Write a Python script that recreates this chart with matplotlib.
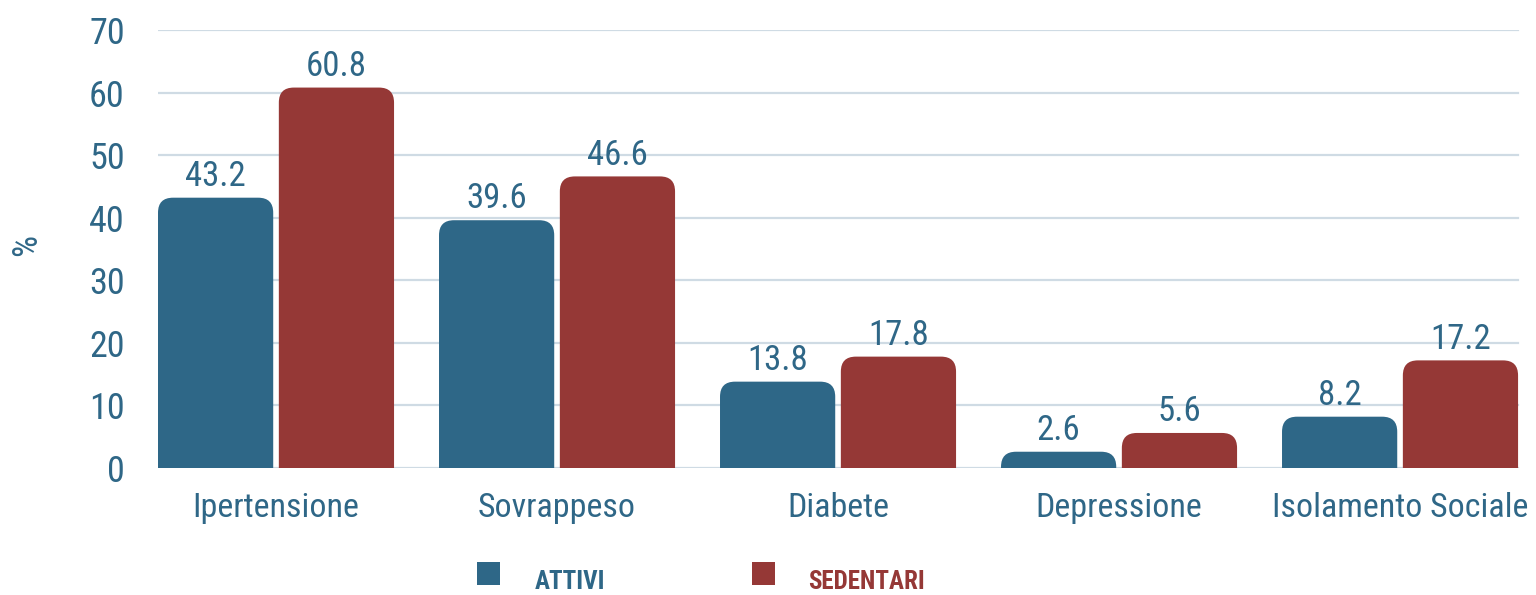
import matplotlib
matplotlib.use("Agg")
import matplotlib.pyplot as plt
from matplotlib import font_manager
from matplotlib.patches import FancyBboxPatch, Rectangle
import numpy as np

categories = ["Ipertensione", "Sovrappeso", "Diabete", "Depressione", "Isolamento Sociale"]
attivi = [43.2, 39.6, 13.8, 2.6, 8.2]
sedentari = [60.8, 46.6, 17.8, 5.6, 17.2]
series_names = ["ATTIVI", "SEDENTARI"]
yticks = [0, 10, 20, 30, 40, 50, 60, 70]

BLUE = "#2e6787"
RED = "#953836"
GRID = "#cfdbe4"
TEXT = "#2f6787"

avail = {f.name for f in font_manager.fontManager.ttflist}
fam = None
for cand in ["Liberation Sans Narrow", "Roboto Condensed", "Open Sans Condensed", "Roboto", "DejaVu Sans"]:
    if cand in avail:
        fam = cand
        break
plt.rcParams["font.family"] = [fam, "DejaVu Sans"]

W, H, DPI = 1536, 595, 100
fig = plt.figure(figsize=(W / DPI, H / DPI), dpi=DPI)
ax = fig.add_axes([158 / W, 1 - 468 / H, (1522 - 158) / W, (468 - 30) / H])

x = np.arange(len(categories))
bw = 0.41
off = 0.215
ax.set_xlim(-0.42, len(categories) - 1 + 0.434)
ax.set_ylim(0, 70)

# grid
for yv in yticks:
    ax.axhline(yv, xmin=0, xmax=(1518 - 158) / (1522 - 158), color=GRID, lw=1.6, zorder=0)

# pixel scale for rounded corners
px_per_x = (1522 - 158) / (ax.get_xlim()[1] - ax.get_xlim()[0])
px_per_y = (468 - 30) / 70.0
r_px = 15
rx = r_px / px_per_x
ry = r_px / px_per_y

def rounded_bars(xs, vals, color):
    bars = ax.bar(xs, vals, width=bw, color=color, zorder=2)
    for b in bars:
        b.set_visible(False)
        x0, w, h = b.get_x(), b.get_width(), b.get_height()
        p = FancyBboxPatch((x0, -ry), w, h + ry,
                           boxstyle=f"round,pad=0,rounding_size={rx}",
                           mutation_aspect=ry / rx,
                           fc=color, ec="none", zorder=2, clip_on=True)
        ax.add_patch(p)
        p.set_clip_path(ax.patch)
    for xi, v in zip(xs, vals):
        ax.annotate(f"{v:.1f}", (xi, v), xytext=(0, 8.5), textcoords="offset points",
                    ha="center", va="baseline", fontsize=25, color=TEXT, zorder=3)

rounded_bars(x - off, attivi, BLUE)
rounded_bars(x + off, sedentari, RED)

for s in ax.spines.values():
    s.set_visible(False)
ax.set_yticks(yticks)
ax.set_yticklabels([str(t) for t in yticks])
ax.tick_params(axis="y", length=0, pad=24, labelsize=26, labelcolor=TEXT)
ax.set_xticks(x)
ax.set_xticklabels(categories)
ax.tick_params(axis="x", length=0, pad=17, labelsize=24.5, labelcolor=TEXT)

fig.text(27 / W, 1 - 245 / H, "%", rotation=90, ha="center", va="center",
         fontsize=25, color=TEXT)

# legend
leg_items = [(series_names[0], BLUE, 477, 535), (series_names[1], RED, 752, 808)]
for name, col, sx, tx in leg_items:
    fig.patches.append(Rectangle((sx / W, 1 - 585 / H), 23 / W, 23 / H,
                                 transform=fig.transFigure, fc=col, ec="none"))
    fig.text(tx / W, 1 - 589 / H, name, ha="left", va="baseline", fontsize=18,
             fontweight="bold", color=col)

fig.savefig("out.png", dpi=DPI, facecolor="white")
